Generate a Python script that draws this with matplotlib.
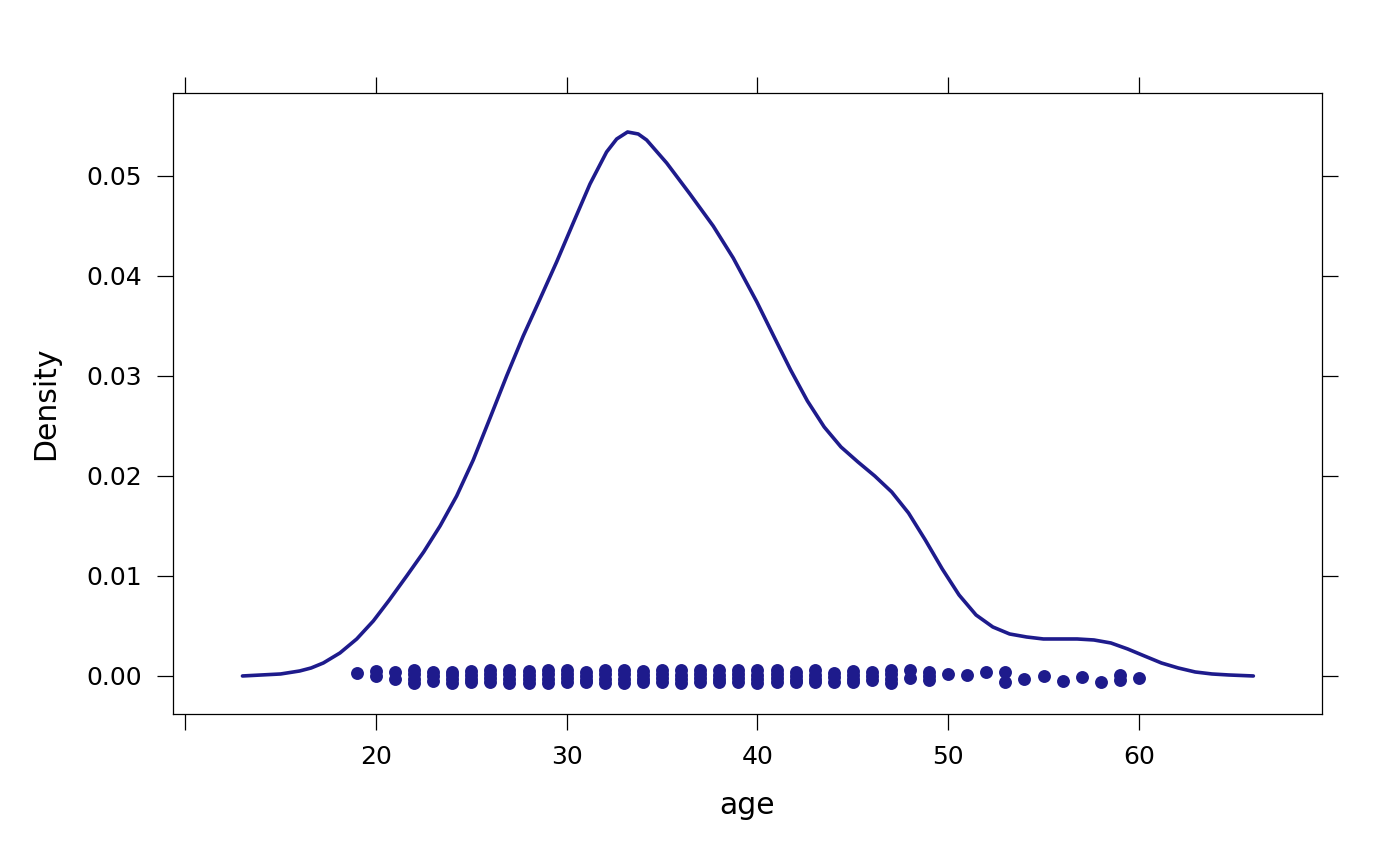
import matplotlib
matplotlib.use("Agg")
import matplotlib.pyplot as plt

# density curve
age_grid = [13.0, 14.0, 15.0, 16.0, 16.6, 17.24, 18.11, 18.99, 19.86, 20.7, 21.61,
            22.5, 23.36, 24.23, 25.10, 25.98, 26.85, 27.72, 28.60, 29.47, 30.34,
            31.22, 32.09, 32.62, 33.19, 33.75, 34.19, 35.24, 36.46, 37.68, 38.73,
            39.97, 40.85, 41.74, 42.62, 43.50, 44.38, 45.27, 46.15, 47.04, 47.92,
            48.80, 49.69, 50.57, 51.46, 52.34, 53.22, 54.11, 54.99, 55.87, 56.76,
            57.64, 58.53, 59.41, 60.29, 61.18, 62.06, 62.95, 63.83, 64.71, 66.0]
density = [0.0, 0.0001, 0.0002, 0.0005, 0.0008, 0.0013, 0.0023, 0.0037, 0.0055,
           0.0076, 0.0100, 0.0124, 0.0150, 0.0180, 0.0216, 0.0258, 0.0300, 0.0340,
           0.0377, 0.0414, 0.0453, 0.0492, 0.0524, 0.0537, 0.0544, 0.0542, 0.0536,
           0.0513, 0.0482, 0.0450, 0.0418, 0.0374, 0.0340, 0.0306, 0.0275, 0.0249,
           0.0229, 0.0214, 0.0200, 0.0184, 0.0163, 0.0136, 0.0107, 0.0081, 0.0061,
           0.0049, 0.0042, 0.0039, 0.0037, 0.0037, 0.0037, 0.0036, 0.0033, 0.0027,
           0.0020, 0.0013, 0.0008, 0.0004, 0.0002, 0.0001, 0.0]

# raw ages with their jitter (as drawn under the curve)
rug_ages = list(range(19, 61))
rug_jitter = [
    [0.00027],
    [0.00047, -0.00003],
    [0.00037, -0.00027],
    [0.00057, 0.0002, -0.0003, -0.00067],
    [0.00037, 0.0, -0.0005],
    [0.00043, 0.0001, -0.0003, -0.00067],
    [0.0005, 0.0001, -0.0003, -0.0006],
    [0.00057, 0.0002, -0.0002, -0.0006],
    [0.0006, 0.0002, -0.0003, -0.00067],
    [0.0005, 0.0001, -0.0003, -0.00067],
    [0.0006, 0.0002, -0.0003, -0.00067],
    [0.00057, 0.0002, -0.0002, -0.0006],
    [0.00037, 0.0, -0.0004, -0.0006],
    [0.0006, 0.0002, -0.0003, -0.00067],
    [0.00057, 0.0002, -0.0003, -0.00067],
    [0.0005, 0.0001, -0.0003, -0.0006],
    [0.0006, 0.0002, -0.0002, -0.0006],
    [0.00057, 0.0001, -0.0003, -0.00067],
    [0.00057, 0.0002, -0.0002, -0.0006],
    [0.00057, 0.0001, -0.0003, -0.0006],
    [0.00057, 0.0002, -0.0002, -0.0006],
    [0.00057, 0.0001, -0.0003, -0.00067],
    [0.00057, 0.0002, -0.0002, -0.0006],
    [0.00037, 0.0, -0.0004, -0.0006],
    [0.00057, 0.0001, -0.0003, -0.0006],
    [0.0003, -0.0001, -0.0006],
    [0.0005, 0.0001, -0.0003, -0.0006],
    [0.00037, 0.0, -0.00043],
    [0.00057, 0.0002, -0.0003, -0.00067],
    [0.00057, -0.00017],
    [0.00043, 0.0, -0.00043],
    [0.00017],
    [0.00013],
    [0.00037],
    [0.00037, -0.0006],
    [-0.00033],
    [0.00003],
    [-0.00047],
    [-0.00013],
    [-0.00057],
    [0.00013, -0.00043],
    [-0.00023],
]

xticks = [10, 20, 30, 40, 50, 60]
xticklabels = ["", "20", "30", "40", "50", "60"]
yticks = [0.0, 0.01, 0.02, 0.03, 0.04, 0.05]

col = "#1e1b8c"

fig = plt.figure(figsize=(14, 8.65), dpi=100)
ax = fig.add_axes([0.1236, 0.1746, 0.8207, 0.7179])

ax.plot(age_grid, density, color=col, lw=2.6, solid_capstyle="round",
        solid_joinstyle="round")

px, py = [], []
for a, js in zip(rug_ages, rug_jitter):
    for j in js:
        px.append(a)
        py.append(j)
ax.plot(px, py, "o", color=col, markersize=9.3, markeredgewidth=0, linestyle="none")

ax.set_xlim(9.36, 69.6)
ax.set_ylim(-0.0038, 0.0583)

ax.set_xticks(xticks)
ax.set_xticklabels(xticklabels)
ax.set_yticks(yticks)
ax.set_yticklabels(["%.2f" % v for v in yticks])

ax.tick_params(direction="out", length=11.5, width=0.9, labelsize=18, pad=11,
               top=True, right=True, labeltop=False, labelright=False, color="black")
for s in ax.spines.values():
    s.set_linewidth(0.9)

ax.set_xlabel("age", fontsize=21.5, labelpad=16)
ax.set_ylabel("Density", fontsize=21.5, labelpad=19)

fig.savefig("out.png", dpi=100)
